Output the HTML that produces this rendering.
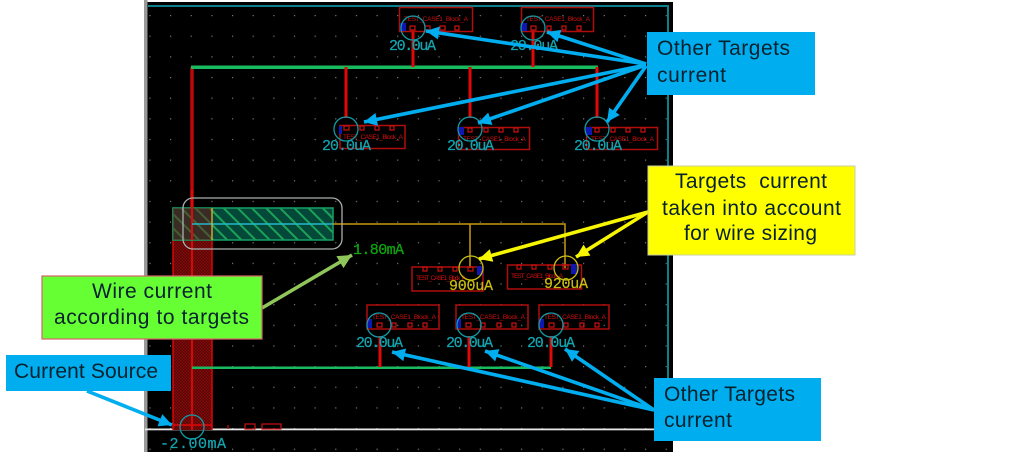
<!DOCTYPE html>
<html><head><meta charset="utf-8"><style>
html,body{margin:0;padding:0;background:#fff;width:1013px;height:458px;overflow:hidden}
svg{display:block;filter:blur(.35px)}
.l{font-family:"Liberation Sans",sans-serif;font-size:21px;fill:#07222e}
.t{font-family:"Liberation Mono",monospace;font-size:15px;fill:#12a5b0;stroke:#12a5b0;stroke-width:.25}
.y{font-family:"Liberation Mono",monospace;font-size:15px;fill:#c9bd12;stroke:#c9bd12;stroke-width:.25}
.n{font-family:"Liberation Sans",sans-serif;font-size:6.5px;fill:#d01010}
.b{fill:none;stroke:#b00d0d;stroke-width:1.5}
.s{fill:none;stroke:#c81010;stroke-width:1.2}
.c{fill:none;stroke:#129aa5;stroke-width:1.3}
.cy{fill:none;stroke:#c9bd12;stroke-width:1.3}
.r{stroke:#e00808;stroke-width:3}
</style></head><body>
<svg width="1013" height="458" viewBox="0 0 1013 458" xmlns="http://www.w3.org/2000/svg">
<defs>
<pattern id="dots" x="170" y="15" width="20.65" height="20.65" patternUnits="userSpaceOnUse"><rect x="0" y="0" width="1.2" height="1.2" fill="#7c7c7c"/></pattern>
<pattern id="redh" width="3" height="3" patternUnits="userSpaceOnUse"><rect width="3" height="3" fill="#4c0505"/><rect width="1.5" height="1.5" fill="#8c0a0a"/><rect x="1.5" y="1.5" width="1.5" height="1.5" fill="#8c0a0a"/></pattern>
<pattern id="grnh" width="10" height="10" patternUnits="userSpaceOnUse" patternTransform="rotate(-45)"><rect width="10" height="10" fill="#04483a"/><rect width="2" height="10" fill="#1ba257"/></pattern>
<marker id="ab" viewBox="0 0 10 10" refX="10" refY="5" markerWidth="15" markerHeight="13" markerUnits="userSpaceOnUse" orient="auto"><path d="M0 0L10 5L0 10z" fill="#00aeef"/></marker>
<marker id="ay" viewBox="0 0 10 10" refX="10" refY="5" markerWidth="15" markerHeight="13" markerUnits="userSpaceOnUse" orient="auto"><path d="M0 0L10 5L0 10z" fill="#f6f600"/></marker>
<marker id="ag" viewBox="0 0 10 10" refX="10" refY="5" markerWidth="15" markerHeight="14" markerUnits="userSpaceOnUse" orient="auto"><path d="M0 0L10 5L0 10z" fill="#8fc65a"/></marker>
</defs>

<rect width="1013" height="458" fill="#fff"/>
<rect x="144" y="0" width="3.5" height="452" fill="#9a9a9a"/>
<rect x="147.500" y="2" width="525.5" height="450" fill="#000"/>
<rect x="147.500" y="2" width="525.500" height="450" fill="url(#dots)"/>
<rect x="148" y="5" width="521" height="2" fill="#0d7f8c"/>
<rect x="667" y="5" width="2" height="424" fill="#0d7f8c"/>
<rect x="145" y="428.500" width="510" height="1.800" fill="#e8e8e8"/>

<!-- wide red strap -->
<rect x="173" y="208" width="39" height="222" fill="url(#redh)"/>
<path d="M173 208V430M212 208V430M173 425H212" stroke="#e00808" stroke-width="1.4" fill="none"/>
<path d="M192 240V430" stroke="#d80808" stroke-width="2"/>
<path d="M192 67V208" stroke="#c00808" stroke-width="3.4"/>

<!-- green wires -->
<rect x="191" y="65.500" width="407" height="3.500" fill="#18bb5e"/>
<rect x="192" y="366.500" width="359" height="2.500" fill="#18bb5e"/>

<!-- red drops -->
<path class="r" d="M413 30V67M533 30V67M346 67V118M470 67V118M597 67V118M380 336V367M469 336V367M551 336V367"/>

<!-- top instances -->
<rect class="b" x="399.500" y="7.500" width="73" height="24"/>
<rect class="b" x="521.500" y="7.500" width="72" height="24"/>
<rect class="b" x="340" y="125.500" width="65" height="23"/>
<rect class="b" x="458.500" y="127.500" width="71" height="22"/>
<rect class="b" x="586.500" y="127.500" width="71" height="22"/>
<text class="n" x="404" y="21" textLength="64">TEST_CASE1_Block_A</text>
<text class="n" x="526" y="21" textLength="64">TEST_CASE1_Block_A</text>
<text class="n" x="343" y="139" textLength="60">TEST_CASE1_Block_A</text>
<text class="n" x="463" y="141" textLength="63">TEST_CASE1_Block_A</text>
<text class="n" x="591" y="141" textLength="63">TEST_CASE1_Block_A</text>
<path class="s" d="M410 26h5v4h-5zM425 26h5v4h-5zM440 26h5v4h-5zM455 26h4v4h-4zM531 26h5v4h-5zM547 26h4v4h-4zM562 26h4v4h-4zM577 26h4v4h-4zM344 126h5v4h-5zM360 126h4v4h-4zM375 126h4v4h-4zM390 126h4v4h-4zM468 128h4v4h-4zM484 128h4v4h-4zM499 128h4v4h-4zM514 128h4v4h-4zM595 128h4v4h-4zM611 128h4v4h-4zM626 128h4v4h-4zM641 128h4v4h-4z"/>
<path d="M400 23h6v8h-6zM521 23h6v8h-6zM339 126h3v8h-3zM458 127h6v8h-6zM586 127h6v8h-6z" fill="#1016b0"/>
<circle class="c" cx="413" cy="28" r="12"/><circle class="c" cx="533" cy="28" r="12"/><circle class="c" cx="346" cy="129" r="12"/><circle class="c" cx="470" cy="129" r="12"/><circle class="c" cx="597" cy="129" r="12"/>
<text class="t" x="389" y="50" textLength="47">20.0uA</text>
<text class="t" x="510" y="50" textLength="48">20.0uA</text>
<text class="t" x="322" y="150" textLength="49">20.0uA</text>
<text class="t" x="447" y="150" textLength="47">20.0uA</text>
<text class="t" x="574" y="150" textLength="48">20.0uA</text>

<!-- hatched wire -->
<rect x="173" y="208" width="160" height="32" fill="url(#grnh)" stroke="#159a60" stroke-width="1.6"/>
<rect x="173" y="208" width="39" height="32" fill="#7a0a0a" opacity=".45"/>
<path d="M192 190V240" stroke="#e00808" stroke-width="2"/>
<path d="M192 224H333" stroke="#25b8c8" stroke-width="1.4"/>
<path d="M212 208V240" stroke="#d8b030" stroke-width="1.4"/>
<path d="M333 224H565V268M470 224V268" stroke="#c79a10" stroke-width="1.5" fill="none"/>
<rect x="183" y="198" width="159" height="51" rx="10" fill="none" stroke="#aab0b0" stroke-width="1.3"/>
<text x="353" y="254" font-family="Liberation Mono,monospace" font-size="15" fill="#0ca60c" stroke="#0ca60c" stroke-width=".25" textLength="51">1.80mA</text>

<!-- yellow target instances -->
<rect class="b" x="412" y="267" width="71" height="24"/>
<rect class="b" x="507.500" y="265" width="74" height="24"/>
<text class="n" x="416" y="280" textLength="50">TEST_CASE1_Block_A</text>
<text class="n" x="511" y="278" textLength="52">TEST_CASE1_Block_A</text>
<path class="s" d="M423 267h4v4h-4zM438 267h4v4h-4zM453 267h4v4h-4zM468 267h5v4h-5zM517 265h4v4h-4zM532 265h4v4h-4zM548 265h4v4h-4zM563 265h5v4h-5z"/>
<path d="M477 266h6v9h-6zM571 264h6v10h-6z" fill="#1016b0"/>
<circle class="cy" cx="471" cy="268" r="12"/><circle class="cy" cx="566" cy="268" r="12"/>
<text class="y" x="449" y="290" textLength="44">900uA</text>
<text class="y" x="544" y="288" textLength="44">920uA</text>

<!-- lower instances -->
<rect class="b" x="367" y="305" width="72" height="24"/>
<rect class="b" x="456" y="305" width="72" height="24"/>
<rect class="b" x="539" y="305" width="70" height="24"/>
<text class="n" x="372" y="319" textLength="64">TEST_CASE1_Block_A</text>
<text class="n" x="461" y="319" textLength="64">TEST_CASE1_Block_A</text>
<text class="n" x="544" y="319" textLength="62">TEST_CASE1_Block_A</text>
<path class="s" d="M377 323h5v4h-5zM392 323h4v4h-4zM408 323h4v4h-4zM423 323h4v4h-4zM466 323h5v4h-5zM481 323h4v4h-4zM497 323h4v4h-4zM512 323h4v4h-4zM549 323h5v4h-5zM564 323h4v4h-4zM580 323h4v4h-4zM595 323h4v4h-4z"/>
<path d="M367 319h5v9h-5zM456 319h5v9h-5zM539 319h5v9h-5z" fill="#1016b0"/>
<circle class="c" cx="379" cy="325" r="12"/><circle class="c" cx="469" cy="325" r="12"/><circle class="c" cx="551" cy="325" r="12"/>
<text class="t" x="356" y="347" textLength="47">20.0uA</text>
<text class="t" x="446" y="347" textLength="47">20.0uA</text>
<text class="t" x="527" y="347" textLength="48">20.0uA</text>

<!-- source -->
<circle class="c" cx="192" cy="427" r="12"/>
<text class="t" x="160" y="448" textLength="66">-2.00mA</text>
<path class="s" d="M228 425v4M245 424h10v5h-10zM262 424h19v5h-19z"/>

<!-- arrows -->
<g fill="none" stroke="#00aeef" stroke-width="3.6">
<path d="M646 64L426 31" marker-end="url(#ab)"/>
<path d="M646 64L547 32" marker-end="url(#ab)"/>
<path d="M646 65L364 122" marker-end="url(#ab)"/>
<path d="M646 65L478 123" marker-end="url(#ab)"/>
<path d="M646 66L607 122" marker-end="url(#ab)"/>
<path d="M654 410L392 352" marker-end="url(#ab)"/>
<path d="M654 410L485 351" marker-end="url(#ab)"/>
<path d="M654 410L565 349" marker-end="url(#ab)"/>
<path d="M87 391L172 425" marker-end="url(#ab)"/>
</g>
<g fill="none" stroke="#f6f600" stroke-width="3.6">
<path d="M648 212L479 259" marker-end="url(#ay)"/>
<path d="M648 212L576 257" marker-end="url(#ay)"/>
</g>
<path d="M262 308L352 255" fill="none" stroke="#8fc65a" stroke-width="3.6" marker-end="url(#ag)"/>

<!-- callouts -->
<rect x="647" y="32" width="168" height="63" fill="#00aeef"/>
<text class="l" x="657" y="55" textLength="133">Other Targets</text>
<text class="l" x="657" y="82" textLength="69">current</text>

<rect x="648" y="166" width="207" height="89" fill="#ffff00" stroke="#c8d0a0" stroke-width="1"/>
<text class="l" x="675" y="188" textLength="152" xml:space="preserve">Targets  current</text>
<text class="l" x="662" y="215" textLength="179">taken into account</text>
<text class="l" x="684" y="240" textLength="133">for wire sizing</text>

<rect x="42" y="276" width="220" height="63" fill="#66ff33" stroke="#d9606a" stroke-width="1.2"/>
<text class="l" x="92" y="298" textLength="120">Wire current</text>
<text class="l" x="54" y="324" textLength="195">according to targets</text>

<rect x="6" y="355" width="165" height="36" fill="#00aeef"/>
<text class="l" x="14" y="378" textLength="144">Current Source</text>

<rect x="654" y="378" width="167" height="63" fill="#00aeef"/>
<text class="l" x="664" y="401" textLength="131">Other Targets</text>
<text class="l" x="664" y="427" textLength="68">current</text>
</svg>
</body></html>
